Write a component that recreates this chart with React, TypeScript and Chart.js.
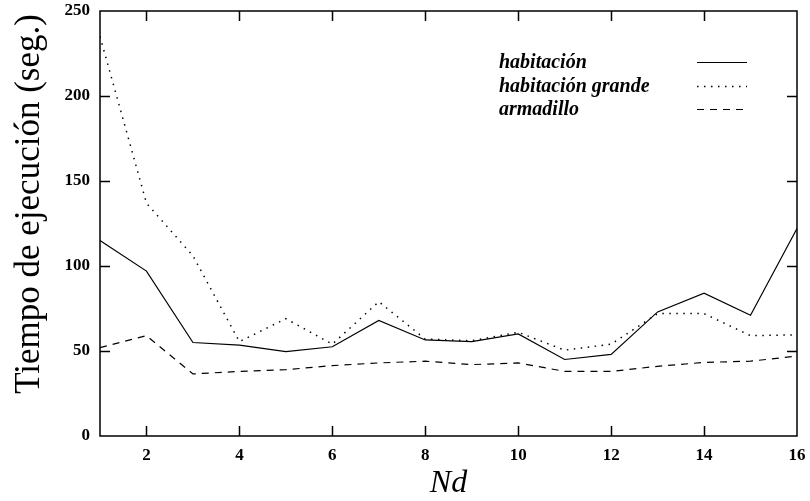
import React, { useEffect, useRef } from "react";
import { Chart, registerables } from "chart.js";

Chart.register(...registerables);

// Number of domains (Nd) on the horizontal axis
const nd = [1, 2, 3, 4, 5, 6, 7, 8, 9, 10, 11, 12, 13, 14, 15, 16];
const xTicks = [2, 4, 6, 8, 10, 12, 14, 16];
const yTicks = [0, 50, 100, 150, 200, 250];

// Execution time in seconds for each scene
const habitacion = [115, 97, 55, 53.5, 49.6, 52.5, 68, 56.5, 55.5, 60, 45, 48, 73, 84, 71, 122];
const habitacionGrande = [235, 137, 106, 55.5, 69, 54, 79, 57, 56, 61, 50.5, 54, 72, 72, 59, 59.5];
const armadillo = [52, 59, 36.5, 38, 39, 41.4, 43, 44, 42, 43, 38, 38, 41, 43.3, 44, 47];

const seriesNames = ["habitación", "habitación grande", "armadillo"];
const yTitle = "Tiempo de ejecución (seg.)";
const xTitle = "Nd";

const SERIF = "'Liberation Serif', 'Times New Roman', Times, serif";

// Boxed frame with inward tick marks on all four sides
const framePlugin = {
  id: "frameTicks",
  afterDatasetsDraw(chart: any) {
    const { ctx, chartArea: a, scales } = chart;
    const xs = scales.x;
    const ys = scales.y;
    const len = 10;
    ctx.save();
    ctx.strokeStyle = "#000";
    ctx.lineWidth = 1.5;
    ctx.strokeRect(a.left, a.top, a.right - a.left, a.bottom - a.top);
    ctx.beginPath();
    for (const v of xTicks) {
      const px = Math.round(xs.getPixelForValue(v)) + 0.5;
      if (px <= a.left + 2 || px >= a.right - 2) continue;
      ctx.moveTo(px, a.bottom);
      ctx.lineTo(px, a.bottom - len);
      ctx.moveTo(px, a.top);
      ctx.lineTo(px, a.top + len);
    }
    for (const v of yTicks) {
      const py = Math.round(ys.getPixelForValue(v)) + 0.5;
      if (py <= a.top + 2 || py >= a.bottom - 2) continue;
      ctx.moveTo(a.left, py);
      ctx.lineTo(a.left + len, py);
      ctx.moveTo(a.right, py);
      ctx.lineTo(a.right - len, py);
    }
    ctx.stroke();
    ctx.restore();
  },
};

// Key drawn inside the plot: label on the left, line sample on the right
const keyPlugin = {
  id: "insideKey",
  afterDatasetsDraw(chart: any) {
    const { ctx, chartArea: a } = chart;
    const textX = a.left + 399;
    const sampleX0 = a.left + 597;
    const sampleX1 = a.left + 647;
    const firstBaseline = a.top + 57;
    const rowGap = 23.5;
    ctx.save();
    ctx.font = `italic bold 20px ${SERIF}`;
    ctx.fillStyle = "#000";
    ctx.textAlign = "left";
    ctx.textBaseline = "alphabetic";
    chart.data.datasets.forEach((ds: any, i: number) => {
      const base = firstBaseline + i * rowGap;
      ctx.fillText(ds.label, textX, base);
      const ly = Math.round(base - 6) + 0.5;
      ctx.beginPath();
      ctx.setLineDash(ds.borderDash || []);
      ctx.lineWidth = ds.borderWidth;
      ctx.strokeStyle = ds.borderColor;
      ctx.moveTo(sampleX0, ly);
      ctx.lineTo(sampleX1, ly);
      ctx.stroke();
    });
    ctx.restore();
  },
};

// Rotated label for the vertical axis
const yTitlePlugin = {
  id: "yTitleText",
  afterDraw(chart: any) {
    const { ctx, chartArea: a } = chart;
    ctx.save();
    ctx.translate(30, a.top + 193);
    ctx.rotate(-Math.PI / 2);
    ctx.font = `35px ${SERIF}`;
    ctx.fillStyle = "#000";
    ctx.textAlign = "center";
    ctx.textBaseline = "middle";
    ctx.fillText(yTitle, 0, 0);
    ctx.restore();
  },
};

export default function App() {
  const canvasRef = useRef<HTMLCanvasElement | null>(null);

  useEffect(() => {
    if (!canvasRef.current) return;
    const toPoints = (vals: number[]) => nd.map((x, i) => ({ x, y: vals[i] }));
    const chart = new Chart(canvasRef.current, {
      type: "line",
      data: {
        datasets: [
          {
            label: seriesNames[0],
            data: toPoints(habitacion),
            borderColor: "#000",
            borderWidth: 1.2,
            borderDash: [],
            pointRadius: 0,
            tension: 0,
            fill: false,
          },
          {
            label: seriesNames[1],
            data: toPoints(habitacionGrande),
            borderColor: "#000",
            borderWidth: 1.5,
            borderDash: [1.5, 5.5],
            pointRadius: 0,
            tension: 0,
            fill: false,
          },
          {
            label: seriesNames[2],
            data: toPoints(armadillo),
            borderColor: "#000",
            borderWidth: 1.2,
            borderDash: [7, 6],
            pointRadius: 0,
            tension: 0,
            fill: false,
          },
        ],
      },
      options: {
        responsive: false,
        animation: false,
        events: [],
        layout: { padding: { left: 0, right: 13, top: 11, bottom: 0 } },
        plugins: {
          legend: { display: false },
          tooltip: { enabled: false },
        },
        scales: {
          x: {
            type: "linear",
            min: 1,
            max: 16,
            afterBuildTicks: (s: any) => {
              s.ticks = xTicks.map((v) => ({ value: v }));
            },
            afterFit: (s: any) => {
              s.height = 65;
              s.paddingLeft = 0;
              s.paddingRight = 0;
            },
            grid: { display: false, drawTicks: false },
            border: { display: false },
            ticks: {
              color: "#000",
              font: { family: SERIF, size: 17, weight: "bold" },
              padding: 9,
              maxRotation: 0,
              autoSkip: false,
              callback: (v: any) => String(v),
            },
            title: {
              display: true,
              text: xTitle,
              color: "#000",
              font: { family: SERIF, size: 32, style: "italic", lineHeight: 1 },
              padding: { top: 0, bottom: 1 },
            },
          },
          y: {
            type: "linear",
            min: 0,
            max: 250,
            afterFit: (s: any) => {
              s.width = 100;
              s.paddingTop = 0;
              s.paddingBottom = 0;
            },
            grid: { display: false, drawTicks: false },
            border: { display: false },
            ticks: {
              stepSize: 50,
              color: "#000",
              font: { family: SERIF, size: 17, weight: "bold" },
              padding: 10,
            },
          },
        },
      },
      plugins: [framePlugin, keyPlugin, yTitlePlugin],
    });
    return () => chart.destroy();
  }, []);

  return (
    <div style={{ position: "fixed", left: 0, top: 0, width: 810, height: 501, background: "#fff" }}>
      <canvas ref={canvasRef} width={810} height={501} style={{ display: "block" }} />
    </div>
  );
}
